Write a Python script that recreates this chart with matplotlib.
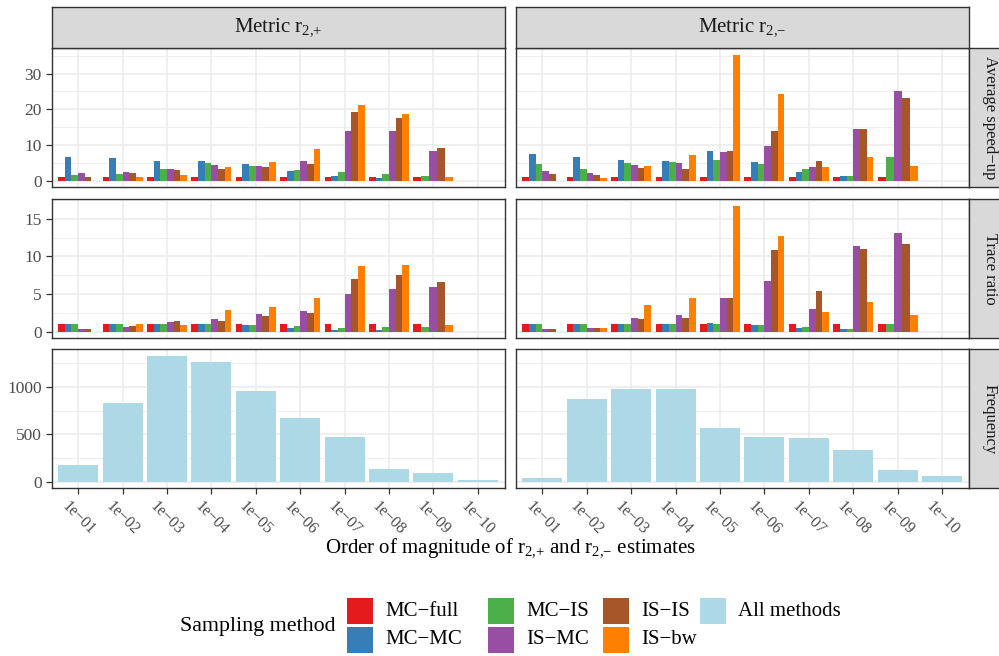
import numpy as np
import matplotlib
matplotlib.use("Agg")
import matplotlib.pyplot as plt
from matplotlib.patches import Rectangle
from matplotlib.ticker import MultipleLocator

plt.rcParams['font.family'] = ['Liberation Serif', 'DejaVu Serif']
plt.rcParams['mathtext.fontset'] = 'custom'
plt.rcParams['mathtext.rm'] = 'Liberation Serif'
plt.rcParams['mathtext.it'] = 'Liberation Serif:italic'
plt.rcParams['mathtext.bf'] = 'Liberation Serif:bold'

# ---- data -------------------------------------------------------------
categories = ['1e−01', '1e−02', '1e−03', '1e−04', '1e−05',
              '1e−06', '1e−07', '1e−08', '1e−09', '1e−10']
methods = ['MC−full', 'MC−MC', 'MC−IS', 'IS−MC', 'IS−IS', 'IS−bw']
method_colors = ['#E41A1C', '#377EB8', '#4DAF4A', '#984EA3', '#A65628', '#FF7F00']
freq_color = '#ADD8E6'

# None = no estimate for that method/magnitude
speedup_plus = {
    'MC−full': [1.0, 1.0, 1.0, 1.0, 1.0, 1.0, 1.0, 1.0, 1.0, None],
    'MC−MC':   [6.6, 6.3, 5.5, 5.5, 4.65, 2.7, 1.3, 0.74, None, None],
    'MC−IS':   [1.6, 1.9, 3.3, 4.9, 4.1, 3.0, 2.4, 1.86, 1.3, None],
    'IS−MC':   [2.1, 2.4, 3.3, 4.4, 4.1, 5.5, 13.9, 14.1, 8.3, None],
    'IS−IS':   [1.0, 2.1, 3.0, 3.3, 3.8, 4.65, 19.2, 17.5, 9.1, None],
    'IS−bw':   [0.0, 1.0, 1.6, 3.8, 5.2, 8.8, 21.1, 18.6, 1.0, None],
}
speedup_minus = {
    'MC−full': [1.0, 1.0, 1.0, 1.0, 1.0, 1.0, 1.0, 1.0, 1.0, None],
    'MC−MC':   [7.4, 6.6, 5.8, 5.5, 8.3, 5.2, 2.4, 1.3, None, None],
    'MC−IS':   [4.65, 3.3, 4.9, 5.2, 6.0, 4.65, 3.3, 1.3, 6.6, None],
    'IS−MC':   [2.7, 2.1, 4.4, 4.9, 8.0, 9.7, 3.8, 14.4, 25.0, None],
    'IS−IS':   [1.9, 1.6, 3.5, 3.3, 8.3, 14.1, 5.5, 14.4, 23.1, None],
    'IS−bw':   [0.0, 0.74, 4.1, 7.2, 35.3, 24.2, 3.8, 6.6, 4.1, None],
}
trace_plus = {
    'MC−full': [1.0, 1.0, 1.0, 1.0, 1.0, 1.0, 1.0, 1.0, 1.0, None],
    'MC−MC':   [1.0, 1.0, 1.0, 1.0, 0.88, 0.48, 0.22, 0.22, None, None],
    'MC−IS':   [1.0, 1.0, 1.0, 1.0, 0.88, 0.75, 0.48, 0.62, 0.62, None],
    'IS−MC':   [0.35, 0.6, 1.28, 1.67, 2.33, 2.73, 4.98, 5.64, 5.9, None],
    'IS−IS':   [0.35, 0.75, 1.41, 1.41, 2.07, 2.47, 6.96, 7.49, 6.56, None],
    'IS−bw':   [0.0, 1.0, 0.88, 2.86, 3.26, 4.45, 8.68, 8.81, 0.88, None],
}
trace_minus = {
    'MC−full': [1.0, 1.0, 1.0, 1.0, 1.0, 1.0, 1.0, 1.0, 1.0, None],
    'MC−MC':   [1.0, 1.0, 1.0, 1.0, 1.15, 0.88, 0.48, 0.35, None, None],
    'MC−IS':   [1.0, 1.0, 1.0, 1.0, 1.0, 0.88, 0.62, 0.35, 1.0, None],
    'IS−MC':   [0.35, 0.48, 1.8, 2.2, 4.45, 6.7, 3.0, 11.45, 13.17, None],
    'IS−IS':   [0.35, 0.48, 1.67, 1.8, 4.45, 10.8, 5.37, 10.93, 11.72, None],
    'IS−bw':   [0.0, 0.48, 3.52, 4.45, 16.74, 12.78, 2.6, 3.92, 2.2, None],
}
freq_plus = [182, 835, 1330, 1267, 961, 677, 477, 140, 98, 25]
freq_minus = [46, 877, 982, 982, 572, 477, 467, 340, 130, 67]

col_titles = [r'Metric $\mathrm{r}_{2{,}{+}}$', r'Metric $\mathrm{r}_{2{,}{-}}$']
row_titles = ['Average speed−up', 'Trace ratio', 'Frequency']
x_title = (r'Order of magnitude of $\mathrm{r}_{2{,}{+}}$ and '
           r'$\mathrm{r}_{2{,}{-}}$ estimates')
legend_title = 'Sampling method'
legend_labels = methods + ['All methods']

# ---- figure geometry (pixels) -----------------------------------------
W, H = 999, 656
fig = plt.figure(figsize=(W / 100, H / 100), dpi=100)

col_x = [(51.5, 504.5), (515.5, 969.0)]
row_y = [(48.3, 187.3), (199.3, 338.3), (349.3, 488.3)]
strip_top = 6.7
strip_w = 41.6


def px_axes(x0, y0, x1, y1, **kw):
    return fig.add_axes([x0 / W, 1 - y1 / H, (x1 - x0) / W, (y1 - y0) / H], **kw)


def fx(px):
    return px / W


def fy(py):
    return 1 - py / H


BORDER = '#333333'
GRID = '#EBEBEB'
STRIP = '#D9D9D9'
TICKTXT = '#4D4D4D'
x = np.arange(1, len(categories) + 1)


def dodge_bars(ax, table):
    for i in range(len(categories)):
        present = [m for m in methods if table[m][i] is not None]
        if not present:
            continue
        w = 0.9 / len(present)
        for j, m in enumerate(present):
            xc = x[i] - 0.45 + w * (j + 0.5)
            ax.bar(xc, table[m][i], width=w,
                   color=method_colors[methods.index(m)], linewidth=0, zorder=3)


def max_of(*tables):
    vals = [v for t in tables for m in methods for v in t[m] if v is not None]
    return max(vals)


rows = [
    (speedup_plus, speedup_minus, 10, 5),
    (trace_plus, trace_minus, 5, 2.5),
    (freq_plus, freq_minus, 500, 250),
]

for r, (tl, tr, major, minor) in enumerate(rows):
    if r < 2:
        top = max_of(tl, tr)
    else:
        top = max(max(tl), max(tr))
    ylim = (-0.05 * top, 1.05 * top)
    for c, tab in enumerate((tl, tr)):
        ax = px_axes(col_x[c][0], row_y[r][0], col_x[c][1], row_y[r][1])
        if r < 2:
            dodge_bars(ax, tab)
        else:
            ax.bar(x, tab, width=0.9, color=freq_color, linewidth=0, zorder=3)
        ax.set_xlim(0.4, len(categories) + 0.6)
        ax.set_ylim(*ylim)
        ax.set_xticks(x)
        ax.yaxis.set_major_locator(MultipleLocator(major))
        ax.yaxis.set_minor_locator(MultipleLocator(minor))
        ax.grid(True, which='major', color=GRID, linewidth=1.1, zorder=0)
        ax.grid(True, which='minor', axis='y', color=GRID, linewidth=0.55, zorder=0)
        ax.set_axisbelow(True)
        for s in ax.spines.values():
            s.set_color(BORDER)
            s.set_linewidth(1.0)
            s.set_zorder(5)
        ax.tick_params(which='major', length=4, width=0.9, color=BORDER,
                       labelcolor=TICKTXT, labelsize=12.5, pad=3)
        ax.tick_params(which='minor', length=0)
        if c == 1:
            ax.tick_params(axis='y', labelleft=False, length=0)
        if r == 2:
            ax.set_xticklabels(categories, rotation=-45, ha='center', va='top',
                               fontsize=11.5, color=TICKTXT)
        else:
            ax.tick_params(axis='x', labelbottom=False, length=0)

# column strips
for c in range(2):
    sa = px_axes(col_x[c][0], strip_top, col_x[c][1], row_y[0][0])
    sa.set_facecolor(STRIP)
    sa.set_xticks([]); sa.set_yticks([])
    for s in sa.spines.values():
        s.set_color(BORDER); s.set_linewidth(1.0)
    sa.text(0.5, 0.5, col_titles[c], transform=sa.transAxes, ha='center',
            va='center', fontsize=15, color='#1A1A1A')

# row strips
for r in range(3):
    sa = px_axes(col_x[1][1], row_y[r][0], col_x[1][1] + strip_w, row_y[r][1])
    sa.set_facecolor(STRIP)
    sa.set_xticks([]); sa.set_yticks([])
    for s in sa.spines.values():
        s.set_color(BORDER); s.set_linewidth(1.0)
    fig.text(fx(col_x[1][1] + strip_w / 2), fy((row_y[r][0] + row_y[r][1]) / 2),
             row_titles[r], rotation=-90, ha='center', va='center',
             fontsize=12, color='#1A1A1A')

fig.text(fx(510), fy(548), x_title, ha='center', va='center', fontsize=15)

# legend: title on the left, keys in four columns of two rows
fig.text(fx(180), fy(627), legend_title, ha='left', va='center', fontsize=15.8)
key_cols = [347, 488, 603, 700]
key_rows = [598, 627]
key = 26
legend_colors = method_colors + [freq_color]
for k, (lab, col) in enumerate(zip(legend_labels, legend_colors)):
    ci, ri = divmod(k, 2)
    kx, ky = key_cols[ci], key_rows[ri]
    fig.add_artist(Rectangle((fx(kx), fy(ky + key)), key / W, key / H,
                             transform=fig.transFigure, facecolor=col,
                             edgecolor='none'))
    fig.text(fx(kx + 38), fy(ky + key / 2), lab, ha='left', va='center',
             fontsize=15)

fig.savefig('out.png', dpi=100)
